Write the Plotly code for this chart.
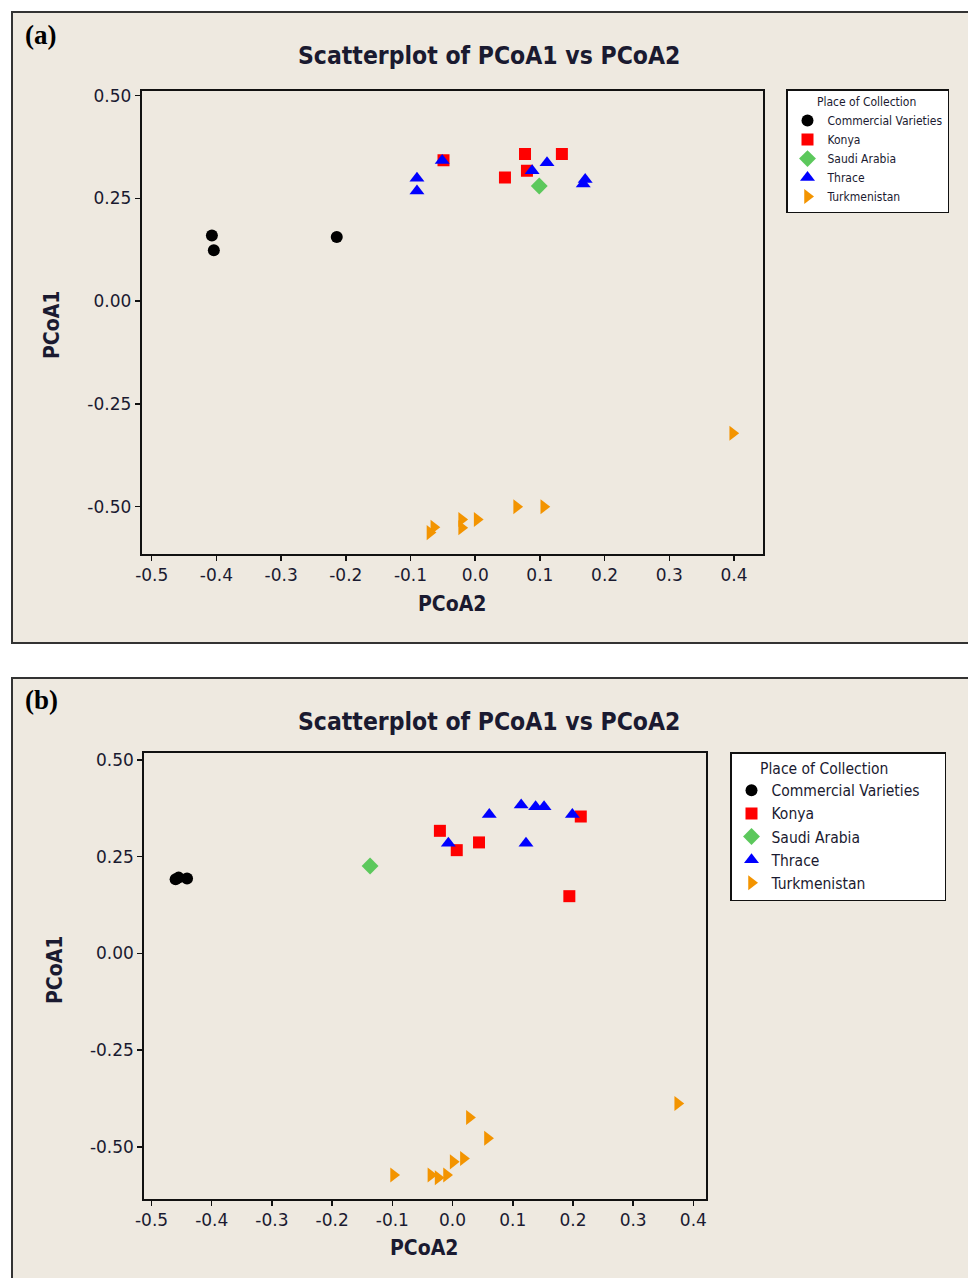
import plotly.graph_objects as go

W, H = 968, 1278

groups = ["Commercial Varieties", "Konya", "Saudi Arabia", "Thrace", "Turkmenistan"]
symbols = ["circle", "square", "diamond", "triangle-up", "triangle-right"]
colors = ["#000000", "#FF0000", "#5CC85C", "#0000FF", "#F39400"]
sizes = [12, 12, 13, 13, 13]

# Panel (a) data: PCoA2 (x) and PCoA1 (y)
a_commercial_x = [-0.407, -0.404, -0.214]
a_commercial_y = [0.160, 0.124, 0.156]
a_konya_x = [-0.049, 0.077, 0.134, 0.046, 0.080]
a_konya_y = [0.343, 0.358, 0.358, 0.301, 0.317]
a_saudi_x = [0.099]
a_saudi_y = [0.280]
a_thrace_x = [-0.051, -0.090, -0.090, 0.088, 0.111, 0.170, 0.167]
a_thrace_y = [0.342, 0.299, 0.268, 0.317, 0.337, 0.296, 0.285]
a_turkmen_x = [0.398, 0.064, 0.106, 0.003, -0.021, -0.021, -0.064, -0.070]
a_turkmen_y = [-0.321, -0.500, -0.500, -0.531, -0.531, -0.551, -0.550, -0.563]

# Panel (b) data
b_commercial_x = [-0.460, -0.455, -0.441]
b_commercial_y = [0.192, 0.196, 0.194]
b_konya_x = [-0.021, 0.007, 0.044, 0.213, 0.194]
b_konya_y = [0.317, 0.267, 0.287, 0.354, 0.148]
b_saudi_x = [-0.137]
b_saudi_y = [0.226]
b_thrace_x = [-0.007, 0.061, 0.114, 0.138, 0.152, 0.199, 0.122]
b_thrace_y = [0.285, 0.359, 0.384, 0.379, 0.379, 0.359, 0.285]
b_turkmen_x = [0.374, 0.028, 0.058, 0.018, 0.001, -0.010, -0.024, -0.036, -0.098]
b_turkmen_y = [-0.388, -0.424, -0.478, -0.530, -0.539, -0.573, -0.580, -0.573, -0.573]

x_ticks = [-0.5, -0.4, -0.3, -0.2, -0.1, 0.0, 0.1, 0.2, 0.3, 0.4]
x_tick_text = ["-0.5", "-0.4", "-0.3", "-0.2", "-0.1", "0.0", "0.1", "0.2", "0.3", "0.4"]
y_ticks = [0.50, 0.25, 0.00, -0.25, -0.50]
y_tick_text = ["0.50", "0.25", "0.00", "-0.25", "-0.50"]

title_text = "Scatterplot of PCoA1 vs PCoA2"
legend_title = "Place of Collection"

a_data = [(a_commercial_x, a_commercial_y), (a_konya_x, a_konya_y), (a_saudi_x, a_saudi_y),
          (a_thrace_x, a_thrace_y), (a_turkmen_x, a_turkmen_y)]
b_data = [(b_commercial_x, b_commercial_y), (b_konya_x, b_konya_y), (b_saudi_x, b_saudi_y),
          (b_thrace_x, b_thrace_y), (b_turkmen_x, b_turkmen_y)]


def px(x):
    return x / W


def py(y):
    return 1 - y / H


BEIGE = "#EEE9E0"
TXT = "#1a1a30"
TICKFONT = dict(family="DejaVu Sans, Verdana, Arial", size=17, color=TXT)
BOLDFONT = "DejaVu Sans Condensed, Liberation Sans Narrow, Arial"
LEGFONT = "DejaVu Sans Condensed, Liberation Sans Narrow, Arial"
NB = "\u00a0"

fig = go.Figure()

for i, g in enumerate(groups):
    xs, ys = a_data[i]
    fig.add_trace(go.Scatter(
        x=xs, y=ys, mode="markers", name=g, xaxis="x", yaxis="y", legend="legend",
        marker=dict(symbol=symbols[i], color=colors[i], size=sizes[i], line=dict(width=0)),
    ))
for i, g in enumerate(groups):
    xs, ys = b_data[i]
    fig.add_trace(go.Scatter(
        x=xs, y=ys, mode="markers", name=g, xaxis="x2", yaxis="y2", legend="legend2",
        marker=dict(symbol=symbols[i], color=colors[i], size=sizes[i], line=dict(width=0)),
    ))

axis_common = dict(
    showline=True, mirror=True, linecolor="#111111", linewidth=2,
    showgrid=False, zeroline=False, ticks="outside", ticklen=5, tickwidth=1.5,
    tickcolor="#111111", tickfont=TICKFONT, tickmode="array", automargin=False,
)

fig.update_layout(
    width=W, height=H,
    margin=dict(l=0, r=0, t=0, b=0, pad=0, autoexpand=False),
    paper_bgcolor="white",
    plot_bgcolor="white",
    showlegend=True,
    hovermode=False,
    xaxis=dict(domain=[px(141.7), px(762.7)], range=[-0.5155, 0.4444], anchor="y",
               tickvals=x_ticks, ticktext=x_tick_text, **axis_common),
    yaxis=dict(domain=[py(554), py(90.7)], range=[-0.615, 0.512], anchor="x",
               tickvals=y_ticks, ticktext=y_tick_text, **axis_common),
    xaxis2=dict(domain=[px(144.3), px(706)], range=[-0.512, 0.421], anchor="y2",
                tickvals=x_ticks, ticktext=x_tick_text, **axis_common),
    yaxis2=dict(domain=[py(1199), py(752.7)], range=[-0.635, 0.519], anchor="x2",
                tickvals=y_ticks, ticktext=y_tick_text, **axis_common),
    legend=dict(
        x=px(786), y=py(89), xanchor="left", yanchor="top",
        bgcolor="white", bordercolor="#111111", borderwidth=1.5,
        font=dict(family=LEGFONT, size=12, color=TXT),
        title=dict(text=NB * 8 + legend_title, font=dict(size=12, color=TXT)),
        itemclick=False, itemdoubleclick=False, tracegroupgap=0,
    ),
    legend2=dict(
        x=px(730), y=py(752), xanchor="left", yanchor="top",
        bgcolor="white", bordercolor="#111111", borderwidth=1.5,
        font=dict(family=LEGFONT, size=15.5, color=TXT),
        title=dict(text=NB * 6 + legend_title + NB * 12, font=dict(size=15.5, color=TXT)),
        itemclick=False, itemdoubleclick=False, tracegroupgap=0,
    ),
)

# panel frames
for (y0, y1) in [(12, 643), (678, 1300)]:
    fig.add_shape(type="rect", xref="paper", yref="paper",
                  x0=px(12), x1=px(1000), y0=py(y1), y1=py(y0),
                  fillcolor=BEIGE, line=dict(color="#333333", width=2), layer="below")

ann = []
# panel labels
ann.append(dict(text="<b>(a)</b>", x=px(23), y=py(35), xanchor="left", yanchor="middle",
                font=dict(family="Liberation Serif, Times New Roman, serif", size=27, color="black")))
ann.append(dict(text="<b>(b)</b>", x=px(23), y=py(700), xanchor="left", yanchor="middle",
                font=dict(family="Liberation Serif, Times New Roman, serif", size=27, color="black")))
# titles
for yy in (56, 721):
    ann.append(dict(text="<b>" + title_text + "</b>", x=px(489), y=py(yy), xanchor="center",
                    yanchor="middle", font=dict(family=BOLDFONT, size=24.5, color=TXT)))
# axis titles
for (xx, yy) in [(452, 604), (424, 1248)]:
    ann.append(dict(text="<b>PCoA2</b>", x=px(xx), y=py(yy), xanchor="center", yanchor="middle",
                    font=dict(family=BOLDFONT, size=21, color=TXT)))
for (xx, yy) in [(52, 325), (55, 970)]:
    ann.append(dict(text="<b>PCoA1</b>", x=px(xx), y=py(yy), xanchor="center", yanchor="middle",
                    textangle=-90, font=dict(family=BOLDFONT, size=21, color=TXT)))

for a in ann:
    a.update(xref="paper", yref="paper", showarrow=False)
    fig.add_annotation(**a)

fig.write_html(
    "out.html",
    config={"displayModeBar": False, "staticPlot": True},
    post_script="document.body.style.margin='0';document.body.style.padding='0';"
                "document.documentElement.style.overflow='hidden';",
)
